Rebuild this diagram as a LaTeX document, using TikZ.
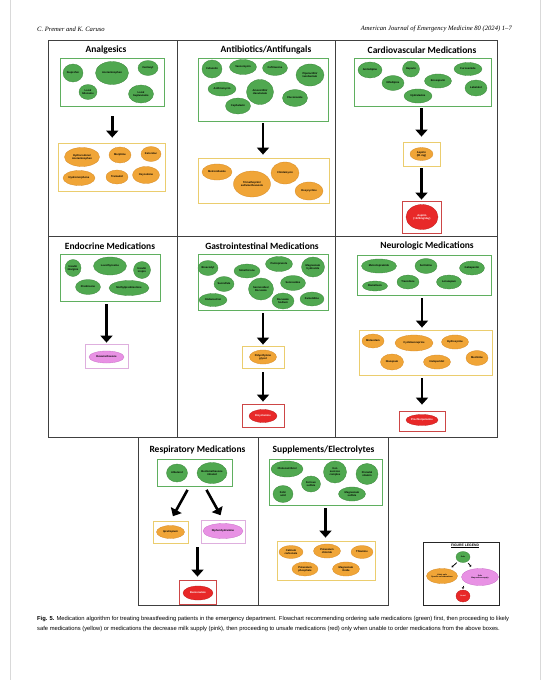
\documentclass[tikz,border=0pt]{standalone}
\usepackage{fontspec}
\setmainfont{Liberation Serif}
\newfontfamily\titlefont{Carlito}
\newfontfamily\cellfont{Liberation Sans}
\usetikzlibrary{shapes.geometric,arrows.meta}
\definecolor{gfill}{RGB}{80,168,80}
\definecolor{gline}{RGB}{60,135,60}
\definecolor{gboxc}{RGB}{95,175,95}
\definecolor{yfill}{RGB}{240,165,55}
\definecolor{yline}{RGB}{215,140,40}
\definecolor{yboxc}{RGB}{235,205,110}
\definecolor{pfill}{RGB}{232,145,228}
\definecolor{pline}{RGB}{200,110,200}
\definecolor{pboxc}{RGB}{222,175,222}
\definecolor{rfill}{RGB}{232,40,40}
\definecolor{rline}{RGB}{190,30,30}
\definecolor{rboxc}{RGB}{205,70,70}
\tikzset{
  ell/.style={ellipse, inner sep=0pt, align=center, line width=0.3pt,
    font=\cellfont\bfseries\fontsize{2.65}{3}\selectfont},
  sz/.style 2 args={minimum width=#1pt, minimum height=#2pt},
  gE/.style={ell, fill=gfill, draw=gline},
  yE/.style={ell, fill=yfill, draw=yline},
  pE/.style={ell, fill=pfill, draw=pline},
  rE/.style={ell, fill=rfill, draw=rline, text=white},
  legtext/.style={font=\cellfont\bfseries\fontsize{1.9}{2.2}\selectfont},
  boxbase/.style={rectangle, inner sep=0pt, line width=0.8pt},
  gB/.style={boxbase, draw=gboxc},
  yB/.style={boxbase, draw=yboxc},
  pB/.style={boxbase, draw=pboxc},
  rB/.style={boxbase, draw=rboxc},
  panel/.style={rectangle, inner sep=0pt, draw=black!75, line width=0.9pt},
  ptitle/.style={font=\titlefont\bfseries\fontsize{9.5}{10}\selectfont, inner sep=0pt},
  arr/.style={line width=2.6pt, -{Triangle[width=12pt,length=7pt]}},
  larr/.style={line width=0.8pt, -{Triangle[width=2.5pt,length=1.5pt]}},
}
\begin{document}
\begin{tikzpicture}[x=1pt,y=-1pt]
\useasboundingbox (0,0) rectangle (550,680);
\fill[white] (0,0) rectangle (550,680);
\draw[black!15, line width=0.6pt] (10,0) -- (10,680);
\draw[black!15, line width=0.6pt] (540,0) -- (540,680);
% header
\node[anchor=west, inner sep=0, font=\itshape\fontsize{6.6}{7}\selectfont] (hl) at (37,29) {C. Premer and K. Caruso};
\node[anchor=east, inner sep=0, font=\itshape\fontsize{6.6}{7}\selectfont] (hr) at (512,29) {American Journal of Emergency Medicine 80 (2024) 1--7};
% panels
\node[panel, sz={129}{196}] (pA) at (112.5,138) {};
\node[panel, sz={158}{196}] (pB) at (256,138) {};
\node[panel, sz={162}{196}] (pC) at (416,138) {};
\node[panel, sz={129}{201}] (pD) at (112.5,336.5) {};
\node[panel, sz={158}{201}] (pE) at (256,336.5) {};
\node[panel, sz={162}{201}] (pF) at (416,336.5) {};
\node[panel, sz={120}{168}] (pG) at (198,521) {};
\node[panel, sz={130}{168}] (pH) at (323,521) {};
% titles
\node[ptitle] (tA) at (106,50) {Analgesics};
\node[ptitle] (tB) at (266,50) {Antibiotics/Antifungals};
\node[ptitle] (tC) at (422,50) {Cardiovascular Medications};
\node[ptitle] (tD) at (110,246) {Endocrine Medications};
\node[ptitle] (tE) at (262,246) {Gastrointestinal Medications};
\node[ptitle] (tF) at (427,246) {Neurologic Medications};
\node[ptitle] (tG) at (197.5,450) {Respiratory Medications};
\node[ptitle] (tH) at (323.5,450) {Supplements/Electrolytes};
% ---------- Analgesics
\node[gB, sz={103.5}{48}] (aG) at (112.25,82) {};
\node[gE, sz={20}{18}] (a1) at (73,73) {Ibuprofen};
\node[gE, sz={33}{23}] (a2) at (112,73) {Acetaminophen};
\node[gE, sz={20}{15}] (a3) at (148,68) {Fentanyl};
\node[gE, sz={18}{15}] (a4) at (88,92) {Local\\lidocaine};
\node[gE, sz={25}{18}] (a5) at (141,94) {Local\\bupivacaine};
\node[yB, sz={107}{48}] (aY) at (111.5,167) {};
\node[yE, sz={35}{19}] (a6) at (82,157) {Hydrocodone/\\Acetaminophen};
\node[yE, sz={22}{16}] (a7) at (120,155) {Morphine};
\node[yE, sz={20}{15}] (a8) at (151,154) {Ketorolac};
\node[yE, sz={32}{15}] (a9) at (79,178) {Hydromorphone};
\node[yE, sz={22}{14}] (a10) at (117,177) {Tramadol};
\node[yE, sz={27}{17}] (a11) at (146,175) {Oxycodone};
\draw[arr, shorten <=10pt, shorten >=5pt] (aG.south) -- (aG.south |- aY.north);
% ---------- Antibiotics
\node[gB, sz={130}{63}] (bG) at (263,89.5) {};
\node[gE, sz={20}{18}] (b1) at (212,69) {Cefazolin};
\node[gE, sz={27}{15}] (b2) at (243,67) {Vancomycin};
\node[gE, sz={25}{15}] (b3) at (275,68) {Ceftriaxone};
\node[gE, sz={28}{22}] (b4) at (310,75) {Piperacillin/\\tazobactam};
\node[gE, sz={28}{14}] (b5) at (222,89) {Azithromycin};
\node[gE, sz={27}{25}] (b6) at (260,92) {Amoxicillin/\\clavulanate};
\node[gE, sz={25}{17}] (b7) at (295,98) {Fluconazole};
\node[gE, sz={25}{16}] (b8) at (238,106) {Cephalexin};
\node[yB, sz={131}{45}] (bY) at (263.5,180.5) {};
\node[yE, sz={30}{16}] (b9) at (217,172) {Metronidazole};
\node[yE, sz={37}{26}] (b10) at (252,184) {Trimethoprim/\\sulfamethoxazole};
\node[yE, sz={28}{22}] (b11) at (285,173) {Clindamycin};
\node[yE, sz={28}{18}] (b12) at (309,191) {Doxycycline};
\draw[arr, shorten <=2pt, shorten >=3pt] (bG.south) -- (bG.south |- bY.north);
% ---------- Cardiovascular
\node[gB, sz={137}{48}] (cG) at (422.5,82) {};
\node[gE, sz={24}{16}] (c1) at (370,70) {Amlodipine};
\node[gE, sz={17}{16}] (c2) at (411,69) {Heparin};
\node[gE, sz={28}{13}] (c3) at (468,69) {Furosemide};
\node[gE, sz={22}{15}] (c4) at (393,83) {Nifedipine};
\node[gE, sz={27}{14}] (c5) at (438,81) {Enoxaparin};
\node[gE, sz={22}{16}] (c6) at (476,88) {Labetalol};
\node[gE, sz={28}{14}] (c7) at (418,96) {Hydralazine};
\node[yB, sz={37}{24}] (cY) at (421.5,154) {};
\node[yE, sz={23}{13}] (c8) at (421.5,154) {Aspirin\\(81 mg)};
\node[rB, sz={39}{32}] (cR) at (422,217) {};
\node[rE, sz={32}{25}] (c9) at (422,217) {Aspirin\\(\textgreater325mg/day)};
\draw[arr, shorten <=2pt, shorten >=5pt] (cG.south -| cY.north) -- (cY.north);
\draw[arr, shorten <=2pt, shorten >=1pt] (cY.south) -- (cY.south |- cR.north);
% ---------- Endocrine
\node[gB, sz={100}{47}] (dG) at (110,277.5) {};
\node[gE, sz={16}{17}] (d1) at (73,268) {Insulin\\Glargine};
\node[gE, sz={33}{18}] (d2) at (110,266) {Levothyroxine};
\node[gE, sz={17}{17}] (d3) at (142,270) {Insulin\\Lispro};
\node[gE, sz={25}{15}] (d4) at (88,287) {Prednisone};
\node[gE, sz={40}{15}] (d5) at (129,288) {Methylprednisolone};
\node[pB, sz={43}{24}] (dP) at (106.5,356) {};
\node[pE, sz={35}{12}] (d6) at (106.5,357) {Dexamethasone};
\draw[arr, shorten <=3pt, shorten >=1pt] (dG.south -| dP.north) -- (dP.north);
% ---------- Gastrointestinal
\node[gB, sz={130}{56}] (eG) at (263,282) {};
\node[gE, sz={20}{15}] (e1) at (208,268) {Bisacodyl};
\node[gE, sz={26}{14}] (e2) at (247,271) {Simethicone};
\node[gE, sz={27}{15}] (e3) at (279,264) {Pantoprazole};
\node[gE, sz={23}{20}] (e4) at (313,267) {Magnesium\\hydroxide};
\node[gE, sz={20}{15}] (e5) at (224,284) {Sucralfate};
\node[gE, sz={25}{22}] (e6) at (261,289) {Sennosides/\\Docusate};
\node[gE, sz={25}{15}] (e7) at (293,283) {Sennosides};
\node[gE, sz={28}{13}] (e8) at (213,300) {Ondansetron};
\node[gE, sz={22}{16}] (e9) at (283,301) {Docusate\\Sodium};
\node[gE, sz={24}{14}] (e10) at (312,299) {Famotidine};
\node[yB, sz={42}{22}] (eY) at (263,357) {};
\node[yE, sz={27}{14}] (e11) at (263,357) {Polyethylene\\glycol};
\node[rB, sz={42}{23}] (eR) at (263,415.5) {};
\node[rE, sz={28}{13}] (e12) at (263,416) {Dicyclomine};
\draw[arr, shorten <=3pt, shorten >=1pt] (eG.south) -- (eG.south |- eY.north);
\draw[arr, shorten <=4pt, shorten >=2pt] (eY.south) -- (eY.south |- eR.north);
% ---------- Neurologic
\node[gB, sz={134}{40}] (fG) at (424,275) {};
\node[gE, sz={35}{14}] (f1) at (379,266) {Metoclopramide};
\node[gE, sz={22}{15}] (f2) at (426,266) {Sertraline};
\node[gE, sz={25}{14}] (f3) at (472,268) {Gabapentin};
\node[gE, sz={22}{14}] (f4) at (408,282) {Trazodone};
\node[gE, sz={25}{14}] (f5) at (449,282) {Lorazepam};
\node[gE, sz={25}{10}] (f6) at (375,286) {Ramelteon};
\node[yB, sz={133}{45}] (fY) at (425.5,352.5) {};
\node[yE, sz={22}{14}] (f7) at (373,341) {Midazolam};
\node[yE, sz={38}{16}] (f8) at (414,343) {Cyclobenzaprine};
\node[yE, sz={27}{14}] (f9) at (455,342) {Hydroxyzine};
\node[yE, sz={23}{16}] (f10) at (392,362) {Diazepam};
\node[yE, sz={27}{14}] (f11) at (437,362) {Haloperidol};
\node[yE, sz={22}{15}] (f12) at (477,358) {Meclizine};
\node[rB, sz={46}{20}] (fR) at (422,421) {};
\node[rE, sz={32}{11}] (f13) at (422,420) {Prochlorperazine};
\draw[arr, shorten <=3pt, shorten >=2pt] (fG.south -| fR.north) -- (fY.north -| fR.north);
\draw[arr, shorten <=3pt, shorten >=6pt] (fY.south -| fR.north) -- (fR.north);
% ---------- Respiratory
\node[gB, sz={75}{27}] (gG) at (194.5,472.5) {};
\node[gE, sz={21}{18}] (g1) at (177,473) {Albuterol};
\node[gE, sz={26}{21}] (g2) at (212,473) {Beclomethasone\\inhaled};
\node[yB, sz={35}{22}] (gY) at (170.5,532) {};
\node[yE, sz={28}{13}] (g3) at (170.5,532) {Ipratropium};
\node[pB, sz={44}{23}] (gP) at (223,531.5) {};
\node[pE, sz={40}{15}] (g4) at (223,531) {Diphenhydramine};
\node[rB, sz={37}{24}] (gR) at (197.5,592) {};
\node[rE, sz={30}{14}] (g5) at (198,593) {Benzonatate};
\coordinate (gL) at (188,489);
\coordinate (gRt) at (206,489);
\draw[arr, shorten <=1pt, shorten >=5pt] (gL) -- (gY.north);
\draw[arr, shorten <=1pt, shorten >=5pt] (gRt) -- (gP.north);
\draw[arr, shorten <=4pt, shorten >=3pt] (gY.south -| gR.north) -- (gR.north);
% ---------- Supplements
\node[gB, sz={113}{46}] (hG) at (325.5,482) {};
\node[gE, sz={32}{16}] (h1) at (287,469) {Cholecalciferol};
\node[gE, sz={23}{22}] (h2) at (335,472) {Iron\\sucrose\\complex};
\node[gE, sz={22}{21}] (h3) at (367,474) {Prenatal\\vitamin};
\node[gE, sz={19}{16}] (h4) at (311,484) {Ferrous\\sulfate};
\node[gE, sz={20}{17}] (h5) at (283,494) {Folic\\acid};
\node[gE, sz={27}{14}] (h6) at (352,494) {Magnesium\\sulfate};
\node[yB, sz={98}{39}] (hY) at (326,560.5) {};
\node[yE, sz={24}{13}] (h7) at (291,552) {Calcium\\carbonate};
\node[yE, sz={27}{14}] (h8) at (327,551) {Potassium\\chloride};
\node[yE, sz={22}{13}] (h9) at (362,552) {Thiamine};
\node[yE, sz={26}{14}] (h10) at (305,569) {Potassium\\phosphate};
\node[yE, sz={27}{14}] (h11) at (346,569) {Magnesium\\Oxide};
\draw[arr, shorten <=3pt, shorten >=3pt] (hG.south) -- (hG.south |- hY.north);
% ---------- Legend
\node[rectangle, draw=black!85, line width=0.7pt, sz={76}{63}, inner sep=0pt] (lg) at (461,573.5) {};
\node[inner sep=0pt, font=\cellfont\bfseries\fontsize{3.4}{4}\selectfont] (lt) at (465,546) {\underline{FIGURE LEGEND}};
\node[gE, legtext, sz={14}{11}] (l1) at (463,557) {Safe};
\node[yE, legtext, sz={31}{15}] (l2) at (442,576) {Likely safe\\Specific considerations};
\node[pE, legtext, sz={37}{17}] (l3) at (480,577) {Safe\\May reduce supply};
\node[rE, legtext, sz={14}{12}] (l4) at (463,596) {Avoid};
\draw[larr, shorten <=2pt, shorten >=3pt] (l1) -- (l2);
\draw[larr, shorten <=2pt, shorten >=3pt] (l1) -- (l3);
\draw[larr, shorten <=2pt, shorten >=1pt] (l1.south |- l2.south) -- (l4.north);
% caption
\node[anchor=north west, inner sep=0pt, align=left, font=\cellfont\fontsize{5.8}{10}\selectfont] (cap) at (37,616) {\textbf{Fig. 5.} Medication algorithm for treating breastfeeding patients in the emergency department. Flowchart recommending ordering safe medications (green) first, then proceeding to likely\\safe medications (yellow) or medications the decrease milk supply (pink), then proceeding to unsafe medications (red) only when unable to order medications from the above boxes.};
\end{tikzpicture}
\end{document}
